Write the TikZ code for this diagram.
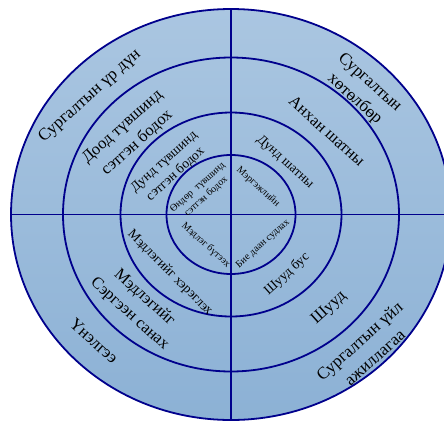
\documentclass[tikz,border=0pt]{standalone}
\usepackage{fontspec}
\setmainfont{Liberation Serif}
\definecolor{ringblue}{RGB}{0,0,140}
\definecolor{filltop}{RGB}{170,198,225}
\definecolor{fillbot}{RGB}{140,177,213}
\begin{document}
\begin{tikzpicture}[x=1pt,y=-1pt,
  ring/.style={draw=ringblue, line width=1.8pt},
  lbl/.style={align=center, inner sep=0pt, text=black},
  lblA/.style={lbl, font=\fontsize{17}{22.5}\selectfont},
  lblB/.style={lbl, font=\fontsize{16.5}{22}\selectfont},
  lblC/.style={lbl, font=\fontsize{13.5}{17}\selectfont},
  lblD/.style={lbl, font=\fontsize{10}{12.5}\selectfont}]
\useasboundingbox (0,0) rectangle (444,421);
\coordinate (c) at (231,214.5);
% filled outer ellipse with gradient
\shade[top color=filltop, bottom color=fillbot] (c) ellipse [x radius=220, y radius=205.5];
\draw[ring] (c) ellipse [x radius=220, y radius=205.5];
\draw[ring] (c) ellipse [x radius=168, y radius=157];
\draw[ring] (c) ellipse [x radius=110.5, y radius=102];
\draw[ring] (c) ellipse [x radius=64.5, y radius=59.5];
\coordinate (l) at (11,214.5);
\coordinate (r) at (451,214.5);
\coordinate (t) at (231,9);
\coordinate (b) at (231,420);
\draw[ring] (l) -- (r);
\draw[ring] (t) -- (b);
% outer ring
\node[lblA, rotate=42] (o1) at (90,96) {Сургалтын үр дүн};
\node[lblA, rotate=-42] (o2) at (362,91) {Сургалтын\\хөтөлбөр};
\node[lblA, rotate=-42] (o3) at (94,341) {Үнэлгээ};
\node[lblA, rotate=42] (o4) at (367,349) {Сургалтын үйл\\ажиллагаа};
% second ring
\node[lblB, rotate=42] (s1) at (130,135) {Доод түвшинд\\сэтгэн бодох};
\node[lblB, rotate=-42] (s2) at (327,131) {Анхан шатны};
\node[lblB, rotate=-42] (s3) at (137,306) {Мэдлэгийг\\Сэргээн санах};
\node[lblB, rotate=42] (s4) at (329,308) {Шууд};
% third ring
\node[lblC, rotate=42] (t1) at (170,168) {Дунд түвшинд\\сэтгэн бодох};
\node[lblC, rotate=-42] (t2) at (285,162) {Дунд шатны};
\node[lblC, rotate=-45] (t3) at (170,273) {Мэдлэгийг хэрэглэх};
\node[lblC, rotate=42] (t4) at (287,274) {Шууд бус};
% inner circle
\node[lblD, rotate=42] (i1) at (202,192) {Өндөр~ түвшинд\\сэтгэн бодох};
\node[lblD, rotate=-42] (i2) at (258,187) {Мэргэжлийн};
\node[lblD, rotate=-42] (i3) at (206,245) {Мэдлэг бүтээх};
\node[lblD, rotate=42] (i4) at (263,244) {Бие даан судлах};
\end{tikzpicture}
\end{document}
